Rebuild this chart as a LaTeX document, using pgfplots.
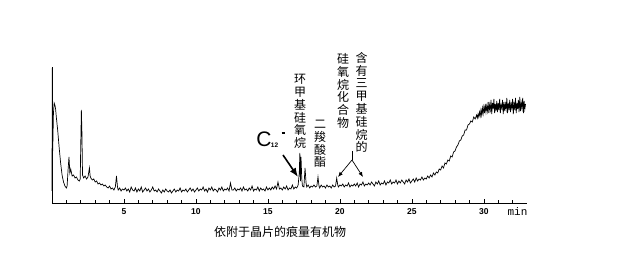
\documentclass[border=0pt]{standalone}
\usepackage{pgfplots}
\pgfplotsset{compat=1.18}
\usepackage{fontspec}
\setmainfont{Liberation Sans}
\setmonofont{Liberation Mono}
\newfontfamily\cjk{Noto Sans CJK SC}
\usetikzlibrary{arrows.meta}

\begin{document}
\begin{tikzpicture}[x=1pt,y=1pt]
\useasboundingbox (0,0) rectangle (638,275);
\begin{axis}[
  at={(52pt,72pt)}, anchor=south west,
  scale only axis, width=475pt, height=136pt,
  xmin=0, xmax=33, ymin=0, ymax=136,
  axis lines=left, axis line style={-, line width=0.8pt},
  ytick=\empty,
  xtick={5,10,15,20,25,30},
  minor xtick={1,2,3,4,6,7,8,9,11,12,13,14,16,17,18,19,21,22,23,24,26,27,28,29,31,32},
  tick align=inside,
  major tick length=4pt, minor tick length=2.5pt,
  tick style={black, line width=0.6pt},
  /pgf/number format/assume math mode=true,
  xticklabel style={font=\bfseries\fontsize{8.5}{9}\selectfont, yshift=-2.5pt},
  clip=false,
]
\addplot[black, line width=0.7pt] coordinates {
(0.00,12)(0.02,135)(0.05,52)(0.10,90)(0.15,100)(0.20,98)(0.25,94)(0.30,86)(0.40,72)(0.50,55)
(0.60,40)(0.70,28)(0.80,21)(0.90,17)(1.00,15)(1.05,17)(1.12,34)(1.18,46)(1.24,30)(1.30,34)
(1.40,27)(1.50,28)(1.60,25)(1.70,26)(1.80,23)(1.90,22)(1.96,24)(2.00,60)(2.04,93)(2.08,70)
(2.12,28)(2.20,25)(2.30,27)(2.40,24)(2.50,26)(2.60,35)(2.65,27)(2.70,25)(2.80,23)(2.90,24)
(3.00,21)(3.10,22)(3.20,19)(3.30,20)(3.40,18)(3.50,19)(3.60,17)(3.70,18)(3.80,16)(3.90,15)
(4.00,17)(4.10,14)(4.20,15)(4.30,13)(4.40,16)(4.48,27)(4.55,16)(4.60,13)(4.70,15)(4.80,12)
(4.90,14)(5.00,13)
(5.1,15)(5.2,12)(5.3,14)(5.4,11)(5.5,16)(5.6,13)(5.7,12)(5.8,15)(5.9,11)(6.0,14)
(6.1,12)(6.2,16)(6.3,11)(6.4,13)(6.5,15)(6.6,12)(6.7,14)(6.8,11)(6.9,13)(7.0,16)
(7.1,12)(7.2,13)(7.3,11)(7.4,14)(7.5,12)(7.6,10)(7.7,13)(7.8,11)(7.9,14)(8.0,12)
(8.1,11)(8.2,13)(8.3,10)(8.4,12)(8.5,14)(8.6,11)(8.7,13)(8.8,12)(8.9,15)(9.0,11)
(9.1,13)(9.2,12)(9.3,14)(9.4,11)(9.5,13)(9.6,15)(9.7,12)(9.8,14)(9.9,11)(10.0,13)
(10.1,15)(10.2,12)(10.3,14)(10.4,13)(10.5,16)(10.6,12)(10.7,14)(10.8,11)(10.9,15)(11.0,13)
(11.1,16)(11.2,12)(11.3,14)(11.4,13)(11.5,11)(11.6,15)(11.7,13)(11.8,16)(11.9,12)(12.0,14)
(12.1,13)(12.2,15)(12.3,12)(12.4,20)(12.5,13)(12.6,13)(12.7,15)(12.8,12)(12.9,14)(13.0,13)
(13.1,15)(13.2,12)(13.3,16)(13.4,13)(13.5,14)(13.6,12)(13.7,15)(13.8,13)(13.9,17)(14.0,12)
(14.1,14)(14.2,13)(14.3,16)(14.4,12)(14.5,15)(14.6,13)(14.7,14)(14.8,12)(14.9,16)(15.0,13)
(15.1,15)(15.2,13)(15.3,16)(15.4,14)(15.5,17)(15.6,14)(15.7,21)(15.8,14)(15.9,15)(16.0,13)
(16.1,16)(16.2,14)(16.3,17)(16.4,13)(16.5,15)(16.6,14)(16.7,18)(16.8,14)(16.9,16)(17.0,15)
(17.1,18)(17.18,30)(17.22,50)(17.26,22)(17.30,46)(17.35,25)(17.4,17)(17.5,16)(17.58,35)(17.65,20)
(17.7,16)(17.8,18)(17.9,15)(18.0,17)(18.1,16)(18.2,18)(18.3,16)(18.4,17)(18.48,26)(18.55,17)
(18.6,15)(18.7,18)(18.8,16)(18.9,17)(19.0,15)(19.1,18)(19.2,16)(19.3,17)(19.4,15)(19.5,18)
(19.6,16)(19.7,17)(19.78,25)(19.85,18)(19.9,16)(20.0,18)(20.1,17)(20.2,19)(20.3,16)(20.4,18)
(20.5,17)(20.6,20)(20.7,16)(20.8,18)(20.9,17)(21.0,19)(21.1,17)(21.2,20)(21.3,16)(21.4,19)
(21.5,18)(21.6,21)(21.7,17)(21.8,19)(21.9,18)(22.0,20)
(22.1,18)(22.2,21)(22.3,19)(22.4,17)(22.5,21)(22.6,19)(22.7,22)(22.8,18)(22.9,20)(23.0,19)
(23.1,22)(23.2,18)(23.3,21)(23.4,20)(23.5,23)(23.6,19)(23.7,21)(23.8,20)(23.9,23)(24.0,19)
(24.1,22)(24.2,20)(24.3,23)(24.4,21)(24.5,19)(24.6,23)(24.7,21)(24.8,24)(24.9,20)(25.0,22)
(25.1,24)(25.2,21)(25.3,25)(25.4,22)(25.5,24)(25.6,23)(25.7,26)(25.8,23)(25.9,25)(26.0,24)
(26.1,27)(26.2,25)(26.3,28)(26.4,26)(26.5,30)(26.6,28)(26.7,31)(26.8,30)(26.9,34)(27.0,33)
(27.1,37)(27.2,35)(27.3,40)(27.4,39)(27.5,43)(27.6,42)(27.7,47)(27.8,46)(27.9,51)(28.0,52)
(28.1,56)(28.2,58)(28.3,62)(28.4,63)(28.5,67)(28.6,68)(28.7,73)(28.8,73)(28.9,78)(29.0,79)
(29.1,82)(29.2,81)(29.3,86)(29.4,84)
(29.50,88)(29.55,85)(29.60,89)(29.65,86)(29.70,91)(29.75,87)(29.80,93)(29.85,88)(29.90,95)(29.95,89)
(30.00,96)(30.05,90)(30.10,99)(30.15,91)(30.20,97)(30.25,92)(30.30,101)(30.35,90)(30.40,98)(30.45,93)
(30.50,103)(30.55,89)(30.60,100)(30.65,94)(30.70,104)(30.75,90)(30.80,99)(30.85,92)(30.90,102)(30.95,91)
(31.00,100)(31.05,93)(31.10,104)(31.15,90)(31.20,98)(31.25,95)(31.30,103)(31.35,89)(31.40,101)(31.45,92)
(31.50,99)(31.55,94)(31.60,105)(31.65,90)(31.70,100)(31.75,93)(31.80,103)(31.85,91)(31.90,99)(31.95,95)
(32.00,104)(32.05,89)(32.10,101)(32.15,93)(32.20,105)(32.25,90)(32.30,100)(32.35,94)(32.40,103)(32.45,91)
(32.50,106)(32.55,92)(32.60,100)(32.65,95)(32.70,105)(32.75,90)(32.80,102)(32.85,94)(32.90,99)
};
\end{axis}

% unit label after the last tick
\node[font=\ttfamily\fontsize{11}{11}\selectfont, inner sep=0] at (517.5,63) {min};

% x-axis caption
\node[font=\cjk\fontsize{12}{12}\selectfont, inner sep=0] at (280,43) {依附于晶片的痕量有机物};

% C12 marker with arrow
\node[font=\fontsize{21}{21}\selectfont, inner sep=0] at (264,135.5) {C};
\node[font=\bfseries\fontsize{6.5}{7}\selectfont, inner sep=0] at (274.5,130) {12};
\draw[line width=1.8pt] (281.5,142) -- (284.5,142);
\draw[line width=1.6pt, -{Latex[length=9pt,width=7pt]}] (283,120) -- (298,98);

% peak names, written top to bottom
\begin{scope}[every node/.style={font=\cjk\fontsize{12}{12.8}\selectfont, align=center, inner sep=0}]
\node at (300,163.5) {环\\甲\\基\\硅\\氧\\烷};
\node at (320,131) {二\\羧\\酸\\酯};
\node at (343,184) {硅\\氧\\烷\\化\\合\\物};
\node at (361.5,172.5) {含\\有\\三\\甲\\基\\硅\\烷\\的};
\end{scope}

% forked arrow for the siloxane peaks
\draw[line width=0.7pt] (352,124) -- (352,115);
\draw[line width=0.7pt, -{Latex[length=5pt,width=4pt]}] (352,115) -- (338,98);
\draw[line width=0.7pt, -{Latex[length=5pt,width=4pt]}] (352,115) -- (363,98);
\end{tikzpicture}
\end{document}
